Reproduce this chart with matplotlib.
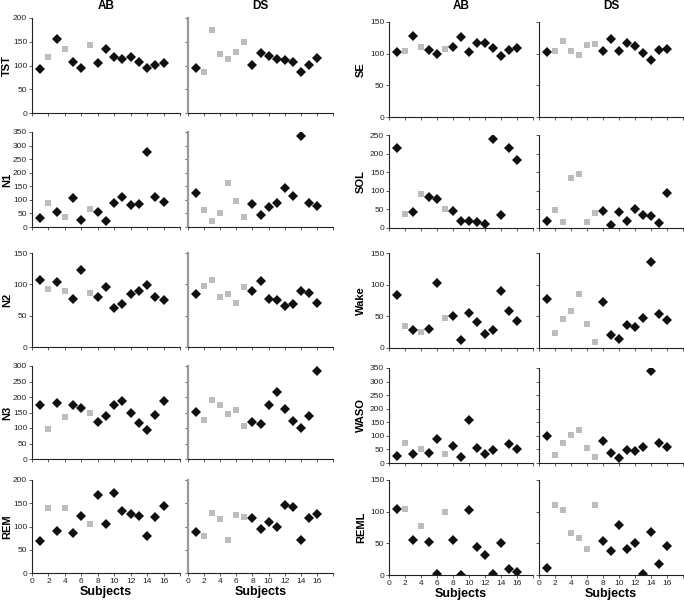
import numpy as np
import matplotlib
matplotlib.use("Agg")
import matplotlib.pyplot as plt

subjects = list(range(1, 17))
gray_AB = [2, 4, 7]
gray_DS = [2, 3, 4, 5, 6, 7]

TST_AB = [92, 118, 155, 135, 107, 95, 144, 105, 135, 118, 113, 117, 108, 95, 102, 105]
TST_DS = [95, 87, 174, 124, 113, 128, 150, 101, 126, 119, 114, 111, 108, 86, 102, 116]
N1_AB = [33, 89, 57, 36, 108, 27, 66, 57, 21, 87, 110, 80, 85, 277, 111, 93]
N1_DS = [124, 61, 21, 52, 161, 94, 37, 85, 45, 74, 89, 142, 114, 336, 88, 79]
N2_AB = [107, 92, 103, 89, 77, 123, 86, 80, 95, 63, 69, 85, 89, 99, 79, 75]
N2_DS = [85, 97, 107, 79, 85, 71, 96, 89, 106, 76, 75, 66, 69, 90, 86, 71]
N3_AB = [174, 97, 181, 137, 175, 166, 147, 118, 139, 173, 187, 150, 115, 95, 141, 188]
N3_DS = [153, 125, 191, 173, 145, 157, 105, 119, 112, 174, 216, 160, 123, 100, 140, 283]
REM_AB = [68, 139, 91, 139, 86, 123, 106, 168, 105, 171, 133, 126, 122, 79, 120, 144]
REM_DS = [89, 79, 128, 117, 71, 125, 121, 118, 95, 110, 99, 147, 142, 71, 118, 126]
SE_AB = [102, 104, 128, 111, 106, 99, 107, 111, 127, 102, 117, 117, 109, 96, 106, 109]
SE_DS = [102, 104, 120, 105, 98, 114, 116, 104, 123, 104, 117, 112, 101, 90, 106, 107]
SOL_AB = [214, 38, 43, 92, 84, 77, 51, 46, 19, 19, 16, 11, 240, 34, 215, 184]
SOL_DS = [20, 49, 17, 135, 145, 17, 39, 45, 8, 44, 20, 50, 35, 32, 14, 94]
Wake_AB = [84, 34, 29, 26, 30, 103, 48, 50, 13, 55, 41, 22, 28, 90, 59, 42]
Wake_DS = [77, 23, 46, 58, 85, 38, 10, 73, 20, 15, 37, 33, 48, 136, 54, 45]
WASO_AB = [25, 72, 35, 52, 37, 89, 34, 61, 21, 158, 57, 32, 48, np.nan, 69, 50]
WASO_DS = [101, 28, 73, 102, 121, 54, 23, 80, 36, 18, 49, 43, 59, 340, 74, 60]
REML_AB = [105, 104, 56, 77, 52, 2, 100, 56, 0, 103, 45, 32, 1, 50, 10, 4]
REML_DS = [11, 110, 103, 67, 58, 41, 111, 54, 38, 79, 41, 51, 2, 68, 18, 46]

x_ticks = [0, 2, 4, 6, 8, 10, 12, 14, 16, 18]
x_ticklabels = ["0", "2", "4", "6", "8", "10", "12", "14", "16", ""]

left_vars = [("TST", TST_AB, TST_DS, 200), ("N1", N1_AB, N1_DS, 350),
             ("N2", N2_AB, N2_DS, 150), ("N3", N3_AB, N3_DS, 300),
             ("REM", REM_AB, REM_DS, 200)]
right_vars = [("SE", SE_AB, SE_DS, 150), ("SOL", SOL_AB, SOL_DS, 250),
              ("Wake", Wake_AB, Wake_DS, 150), ("WASO", WASO_AB, WASO_DS, 350),
              ("REML", REML_AB, REML_DS, 150)]

W, H = 684, 601
fig = plt.figure(figsize=(W / 100, H / 100), dpi=100)

plt.rcParams['font.family'] = ["Liberation Sans Narrow", "Liberation Sans", "DejaVu Sans"]
bold_family = ["Liberation Sans", "DejaVu Sans"]

left_rows = [(18, 113), (132, 227), (253, 347), (366, 459), (480, 573)]
right_rows = [(22, 117), (135, 228), (253, 348), (368, 463), (480, 575)]
left_cols = [(32, 180), (188, 333)]
right_cols = [(389, 533), (539, 683)]
ylabel_x = {"left": 2, "right": 356}

black = "#111111"
gray = "#bdbdbd"


def draw(ax, vals, grays, ymax, is_ds, show_x, spine_gray):
    vals = np.array(vals, dtype=float)
    subj = np.array(subjects)
    g = np.isin(subj, grays)
    ax.plot(subj[~g], vals[~g], linestyle="none", marker="D", ms=5.0,
            color=black, mew=0)
    ax.plot(subj[g], vals[g], linestyle="none", marker="s", ms=4.6,
            color=gray, mew=0)
    ax.set_xlim(0, 18)
    ax.set_ylim(0, ymax)
    ax.set_xticks(x_ticks)
    ax.set_yticks(np.arange(0, ymax + 1, 50))
    for s in ["top", "right"]:
        ax.spines[s].set_visible(False)
    ax.spines["bottom"].set_color("#222222")
    ax.spines["bottom"].set_linewidth(0.8)
    if spine_gray:
        ax.spines["left"].set_color("#9a9a9a")
        ax.spines["left"].set_linewidth(1.6)
    else:
        ax.spines["left"].set_color("#222222")
        ax.spines["left"].set_linewidth(0.8)
    ax.tick_params(axis="both", length=2, width=0.6, color="#444444",
                   labelsize=6, pad=1.5, labelcolor="#222222")
    if show_x:
        ax.set_xticklabels(x_ticklabels)
        ax.set_xlabel("Subjects", fontsize=9, fontweight="bold",
                      family=bold_family, labelpad=0.5)
    else:
        ax.set_xticklabels([])
    if is_ds:
        ax.set_yticklabels([])


for side, group, rows, cols in [("left", left_vars, left_rows, left_cols),
                                ("right", right_vars, right_rows, right_cols)]:
    for i, (name, ab, ds, ymax) in enumerate(group):
        top, bot = rows[i]
        for j, vals in enumerate([ab, ds]):
            l, r = cols[j]
            ax = fig.add_axes([l / W, 1 - bot / H, (r - l) / W, (bot - top) / H])
            draw(ax, vals, gray_AB if j == 0 else gray_DS, ymax, j == 1,
                 i == len(group) - 1, spine_gray=(j == 1 and side == "left"))
            if j == 0:
                fig.text(ylabel_x[side] / W, 1 - (top + bot) / 2 / H, name,
                         rotation=90, ha="left", va="center", fontsize=8,
                         fontweight="bold", family=bold_family)
            if i == 0:
                fig.text((l + r) / 2 / W, 1 - 6 / H, "AB" if j == 0 else "DS",
                         ha="center", va="center", fontsize=8.5,
                         fontweight="bold", family=bold_family)

fig.savefig("out.png", dpi=100)
